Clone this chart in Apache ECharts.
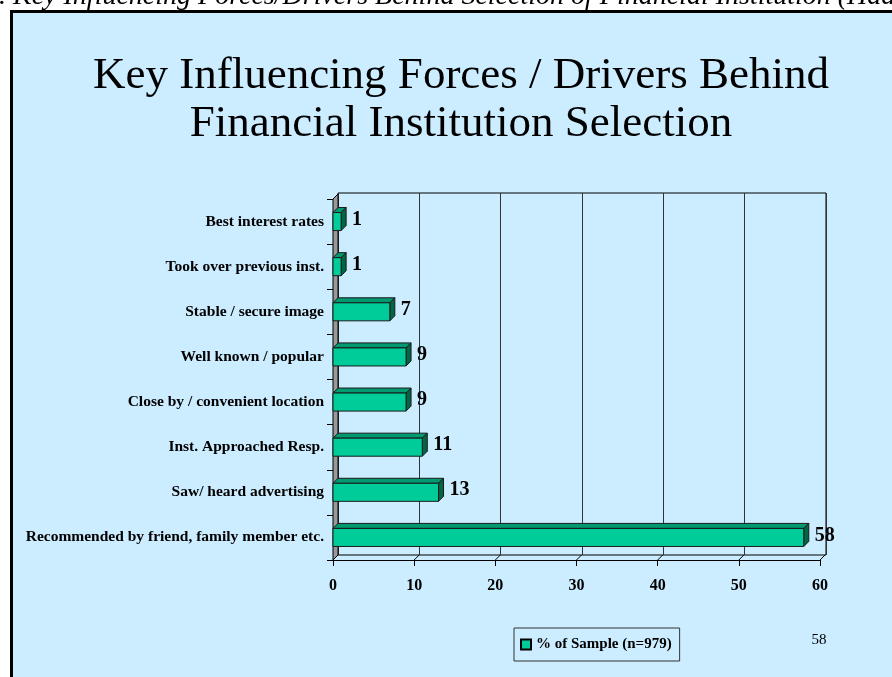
<!DOCTYPE html>
<html>
<head>
<meta charset="utf-8">
<script src="https://cdn.jsdelivr.net/npm/echarts@6/dist/echarts.min.js"></script>
<style>
  html, body { margin: 0; padding: 0; background: #fff; }
  #chart { width: 892px; height: 677px; }
</style>
</head>
<body>
<div id="chart"></div>
<script>
// data
const categories = [
    'Best interest rates',
    'Took over previous inst.',
    'Stable / secure image',
    'Well known / popular',
    'Close by / convenient location',
    'Inst. Approached Resp.',
    'Saw/ heard advertising',
    'Recommended by friend, family member etc.'
];
const values = [1, 1, 7, 9, 9, 11, 13, 58];
const xTicks = [0, 10, 20, 30, 40, 50, 60];
const seriesName = '% of Sample (n=979)';

const SERIF = '"Liberation Serif", "DejaVu Serif", serif';
const DEPTH = 5;   // 3d offset in px

const barData = values.map((v, i) => [v, i]);

function renderBar(params, api) {
    const v = api.value(0);
    const idx = api.value(1);
    const start = api.coord([0, idx]);
    const end = api.coord([v, idx]);
    const h = api.size([0, 1])[1] * 0.4;
    const y0 = start[1] - h / 2;
    const d = DEPTH;
    const stroke = { stroke: '#1a1a1a', lineWidth: 1 };
    return {
        type: 'group',
        children: [
            {
                type: 'polygon',
                shape: { points: [[start[0], y0], [start[0] + d, y0 - d], [end[0] + d, y0 - d], [end[0], y0]] },
                style: Object.assign({ fill: '#009970' }, stroke)
            },
            {
                type: 'polygon',
                shape: { points: [[end[0], y0], [end[0] + d, y0 - d], [end[0] + d, y0 + h - d], [end[0], y0 + h]] },
                style: Object.assign({ fill: '#006644' }, stroke)
            },
            {
                type: 'rect',
                shape: { x: start[0], y: y0, width: end[0] - start[0], height: h },
                style: Object.assign({ fill: '#00CC99' }, stroke)
            },
            {
                type: 'text',
                x: end[0] + d + 6,
                y: start[1] - 2,
                style: {
                    text: String(v),
                    font: 'bold 20px ' + SERIF,
                    fill: '#000',
                    verticalAlign: 'middle',
                    align: 'left'
                }
            }
        ]
    };
}

// grey side wall + floor diagonals, drawn from the front axis scale
function renderFrame(params, api) {
    const cs = params.coordSys;
    const bottom = cs.y + cs.height;
    const d = DEPTH;
    const x = api.coord([api.value(0), 0])[0];
    const children = [{
        type: 'line',
        shape: { x1: x, y1: bottom, x2: x + d, y2: bottom - d },
        style: { stroke: '#000', lineWidth: 1 }
    }];
    if (params.dataIndex === 0) {
        children.push({
            type: 'polygon',
            shape: { points: [[cs.x, cs.y], [cs.x + d, cs.y - d], [cs.x + d, bottom - d], [cs.x, bottom]] },
            style: { fill: '#999999', stroke: '#000', lineWidth: 1 }
        });
    }
    return { type: 'group', children: children };
}

const chart = echarts.init(document.getElementById('chart'));

chart.setOption({
    backgroundColor: '#ffffff',
    animation: false,
    graphic: [
        {
            type: 'rect',
            shape: { x: 11.5, y: 11.5, width: 900, height: 680 },
            style: { fill: '#CCECFF', stroke: '#000', lineWidth: 3 },
            z: -10
        },
        {
            type: 'text',
            x: -15, y: 11,
            style: {
                text: '7. Key Influencing Forces/Drivers Behind Selection of Financial Institution (Had an Account)',
                font: 'italic 28px ' + SERIF,
                fill: '#000',
                verticalAlign: 'bottom'
            }
        },
        {
            type: 'text',
            x: 461, y: 52,
            style: {
                text: 'Key Influencing Forces / Drivers Behind\nFinancial Institution Selection',
                font: '45px ' + SERIF,
                lineHeight: 48,
                fill: '#000',
                align: 'center'
            }
        },
        {
            type: 'text',
            x: 819, y: 640,
            style: { text: '58', font: '15px ' + SERIF, fill: '#000', align: 'center', verticalAlign: 'middle' }
        }
    ],
    legend: {
        data: [{ name: seriesName, icon: 'rect' }],
        left: 514,
        top: 628,
        orient: 'horizontal',
        itemWidth: 10,
        itemHeight: 10,
        itemGap: 4,
        padding: [9, 8, 9, 6],
        borderColor: '#333',
        borderWidth: 1,
        backgroundColor: 'transparent',
        selectedMode: false,
        textStyle: { fontFamily: SERIF, fontWeight: 'bold', fontSize: 15, color: '#000', padding: [0, 0, 0, 0] }
    },
    grid: [
        { left: 333, top: 199, width: 487, height: 361, containLabel: false },
        { left: 338, top: 193, width: 488, height: 362, show: true, borderColor: '#000', borderWidth: 1, backgroundColor: 'transparent', containLabel: false }
    ],
    xAxis: [
        {
            gridIndex: 0, type: 'value', min: 0, max: 60, interval: 10,
            axisLine: { show: true, lineStyle: { color: '#000' } },
            axisTick: { show: true, length: 6, lineStyle: { color: '#000' } },
            splitLine: { show: false },
            axisLabel: { margin: 18, fontFamily: SERIF, fontWeight: 'bold', fontSize: 16, color: '#000' }
        },
        {
            gridIndex: 1, type: 'value', min: 0, max: 60, interval: 10,
            axisLine: { show: false }, axisTick: { show: false }, axisLabel: { show: false },
            splitLine: { show: true, lineStyle: { color: '#333', width: 1 } }
        }
    ],
    yAxis: [
        {
            gridIndex: 0, type: 'category', data: categories, inverse: true,
            axisLine: { show: true, lineStyle: { color: '#000' } },
            axisTick: { show: true, length: 6, lineStyle: { color: '#000' } },
            axisLabel: { margin: 9, fontFamily: SERIF, fontWeight: 'bold', fontSize: 15.5, color: '#000' }
        },
        {
            gridIndex: 1, type: 'value', min: 0, max: 1,
            axisLine: { show: false }, axisTick: { show: false }, axisLabel: { show: false },
            splitLine: { show: false }
        }
    ],
    series: [
        {
            name: 'frame',
            type: 'custom',
            xAxisIndex: 0, yAxisIndex: 0,
            data: xTicks.map(t => [t]),
            renderItem: renderFrame,
            silent: true,
            z: 1
        },
        {
            name: seriesName,
            type: 'custom',
            xAxisIndex: 0, yAxisIndex: 0,
            data: barData,
            renderItem: renderBar,
            itemStyle: { color: '#00CC99', borderColor: '#000', borderWidth: 1 },
            z: 3
        }
    ]
});
</script>
</body>
</html>
